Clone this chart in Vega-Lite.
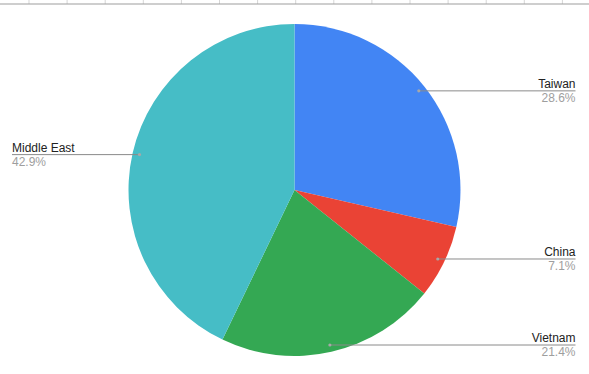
{
  "$schema": "https://vega.github.io/schema/vega-lite/v6.json",
  "width": 589,
  "height": 368,
  "autosize": {"type": "none"},
  "padding": {"top": 6, "left": 0, "right": 0, "bottom": 0},
  "background": "white",
  "config": {"view": {"stroke": null}, "font": "Liberation Sans"},
  "datasets": {
    "slices": [
      {"region": "Taiwan", "value": 4},
      {"region": "China", "value": 1},
      {"region": "Vietnam", "value": 3},
      {"region": "Middle East", "value": 6}
    ],
    "cols": [
      {"col": 0}, {"col": 1}, {"col": 2}, {"col": 3}, {"col": 4},
      {"col": 5}, {"col": 6}, {"col": 7}, {"col": 8}, {"col": 9},
      {"col": 10}, {"col": 11}, {"col": 12}, {"col": 13}, {"col": 14}
    ]
  },
  "resolve": {"scale": {"x": "independent"}},
  "layer": [
    {
      "data": {"name": "cols"},
      "mark": {"type": "rule", "color": "#d6d6d6", "strokeWidth": 1},
      "encoding": {
        "x": {"field": "col", "type": "quantitative", "scale": {"domain": [-0.761, 14.698]}, "axis": null},
        "y": {"datum": 190, "type": "quantitative", "scale": {"domain": [-184, 184]}, "axis": null},
        "y2": {"datum": 186}
      }
    },
    {
      "data": {"values": [{"edge": "top"}]},
      "mark": {"type": "rule", "color": "#9e9e9e", "strokeWidth": 1.2},
      "encoding": {
        "x": {"datum": -294.5, "type": "quantitative", "scale": {"domain": [-294.5, 294.5]}, "axis": null},
        "x2": {"datum": 294.5},
        "y": {"datum": 186, "type": "quantitative", "scale": {"domain": [-184, 184]}, "axis": null}
      }
    },
    {
      "data": {"name": "slices"},
      "transform": [
        {"joinaggregate": [{"op": "sum", "field": "value", "as": "total"}]},
        {"window": [{"op": "sum", "field": "value", "as": "cum"}], "frame": [null, 0]},
        {"calculate": "(datum.cum - datum.value) / datum.total", "as": "fs"},
        {"calculate": "datum.cum / datum.total", "as": "fe"},
        {"calculate": "datum.value / datum.total", "as": "frac"},
        {"calculate": "PI * (datum.fs + datum.fe)", "as": "mid"},
        {"calculate": "159 * sin(datum.mid)", "as": "px"},
        {"calculate": "159 * cos(datum.mid)", "as": "py"},
        {"calculate": "datum.mid < PI ? 'right' : 'left'", "as": "side"},
        {"calculate": "datum.mid < PI ? 281 : -282.5", "as": "ex"}
      ],
      "layer": [
        {
          "mark": {"type": "arc", "outerRadius": 166},
          "encoding": {
            "theta": {"field": "fs", "type": "quantitative", "scale": {"domain": [0, 1]}},
            "theta2": {"field": "fe"},
            "color": {
              "field": "region",
              "type": "nominal",
              "scale": {
                "domain": ["Taiwan", "China", "Vietnam", "Middle East"],
                "range": ["#4285F4", "#EA4335", "#34A853", "#46BDC6"]
              },
              "legend": null
            }
          }
        },
        {
          "mark": {"type": "rule", "color": "#8a8a8a", "strokeWidth": 1},
          "encoding": {
            "x": {"field": "px", "type": "quantitative", "scale": {"domain": [-294.5, 294.5]}, "axis": null},
            "x2": {"field": "ex"},
            "y": {"field": "py", "type": "quantitative", "scale": {"domain": [-184, 184]}, "axis": null}
          }
        },
        {
          "mark": {"type": "circle", "size": 10, "color": "#a8a8a8", "opacity": 1},
          "encoding": {
            "x": {"field": "px", "type": "quantitative", "scale": {"domain": [-294.5, 294.5]}, "axis": null},
            "y": {"field": "py", "type": "quantitative", "scale": {"domain": [-184, 184]}, "axis": null}
          }
        },
        {
          "transform": [{"filter": "datum.side == 'right'"}],
          "layer": [
            {
              "mark": {"type": "text", "align": "right", "baseline": "alphabetic", "dy": -3, "fontSize": 12, "color": "#222222"},
              "encoding": {
                "x": {"field": "ex", "type": "quantitative", "scale": {"domain": [-294.5, 294.5]}, "axis": null},
                "y": {"field": "py", "type": "quantitative", "scale": {"domain": [-184, 184]}, "axis": null},
                "text": {"field": "region"}
              }
            },
            {
              "mark": {"type": "text", "align": "right", "baseline": "alphabetic", "dy": 11, "fontSize": 12, "color": "#9e9e9e"},
              "encoding": {
                "x": {"field": "ex", "type": "quantitative", "scale": {"domain": [-294.5, 294.5]}, "axis": null},
                "y": {"field": "py", "type": "quantitative", "scale": {"domain": [-184, 184]}, "axis": null},
                "text": {"field": "frac", "type": "quantitative", "format": ".1%"}
              }
            }
          ]
        },
        {
          "transform": [{"filter": "datum.side == 'left'"}],
          "layer": [
            {
              "mark": {"type": "text", "align": "left", "baseline": "alphabetic", "dy": -3, "fontSize": 12, "color": "#222222"},
              "encoding": {
                "x": {"field": "ex", "type": "quantitative", "scale": {"domain": [-294.5, 294.5]}, "axis": null},
                "y": {"field": "py", "type": "quantitative", "scale": {"domain": [-184, 184]}, "axis": null},
                "text": {"field": "region"}
              }
            },
            {
              "mark": {"type": "text", "align": "left", "baseline": "alphabetic", "dy": 11, "fontSize": 12, "color": "#9e9e9e"},
              "encoding": {
                "x": {"field": "ex", "type": "quantitative", "scale": {"domain": [-294.5, 294.5]}, "axis": null},
                "y": {"field": "py", "type": "quantitative", "scale": {"domain": [-184, 184]}, "axis": null},
                "text": {"field": "frac", "type": "quantitative", "format": ".1%"}
              }
            }
          ]
        }
      ]
    }
  ]
}
